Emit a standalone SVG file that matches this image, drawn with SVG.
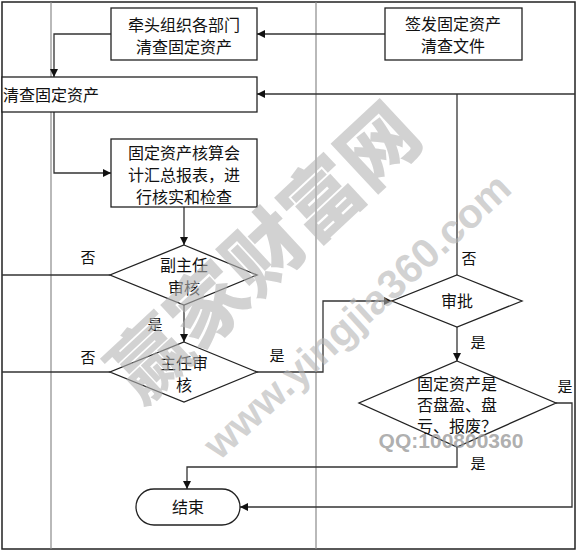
<svg xmlns="http://www.w3.org/2000/svg" width="577" height="553" viewBox="0 0 577 553">
<style>
.frame{fill:none;stroke:#222;stroke-width:1.5}
.lane{stroke:#8a8a8a;stroke-width:1.2}
.box{fill:#fff;stroke:#222;stroke-width:1.3}
.con{fill:none;stroke:#333;stroke-width:1.3}
.t{font-family:"Noto Sans CJK SC","Liberation Sans",sans-serif;font-size:16px;fill:#111;text-anchor:middle}
.lbl{font-family:"Noto Sans CJK SC","Liberation Sans",sans-serif;font-size:15px;fill:#111;text-anchor:middle}
.wm{font-family:"Liberation Sans","Noto Sans CJK SC",sans-serif;font-weight:bold;fill:#b4b4b4;fill-opacity:0.6;text-anchor:middle}
</style>
<defs>
<marker id="arr" viewBox="0 0 10 10" refX="10" refY="5" markerWidth="8" markerHeight="8" markerUnits="userSpaceOnUse" orient="auto">
<path d="M0,0 L10,5 L0,10 z" fill="#111"/>
</marker>
</defs>
<rect width="577" height="553" fill="#fff"/>
<g id="frame">
<rect class="frame" x="2" y="2" width="573" height="547"/>
<line class="lane" x1="51" y1="2" x2="51" y2="549"/>
<line class="lane" x1="316" y1="2" x2="316" y2="549"/>
</g>
<g id="connectors">
<path class="con" d="M385,34 H257" marker-end="url(#arr)"/>
<path class="con" d="M111,34 H54 V77" marker-end="url(#arr)"/>
<path class="con" d="M54,112 V173 H111" marker-end="url(#arr)"/>
<path class="con" d="M184,207 V245" marker-end="url(#arr)"/>
<path class="con" d="M110,275 H2"/>
<path class="con" d="M184,305 V342" marker-end="url(#arr)"/>
<path class="con" d="M110,372 H2"/>
<path class="con" d="M257,372 H323 V301 H392" marker-end="url(#arr)"/>
<path class="con" d="M575,94 H257" marker-end="url(#arr)"/>
<path class="con" d="M457,275 V94"/>
<path class="con" d="M457,327 V361" marker-end="url(#arr)"/>
<path class="con" d="M556,403 H572 V507 H240" marker-end="url(#arr)"/>
<path class="con" d="M457,447 V467 H187 V489" marker-end="url(#arr)"/>
</g>
<g id="labels">
<text class="lbl" x="88" y="263">否</text>
<text class="lbl" x="88" y="363">否</text>
<text class="lbl" x="155" y="330">是</text>
<text class="lbl" x="277" y="361">是</text>
<text class="lbl" x="469" y="264">否</text>
<text class="lbl" x="478" y="348">是</text>
<text class="lbl" x="565" y="392">是</text>
<text class="lbl" x="478" y="469">是</text>
</g>
<g id="n1">
<rect class="box" x="111" y="8" width="146" height="52"/>
<text class="t" x="184" y="31">牵头组织各部门</text>
<text class="t" x="184" y="53">清查固定资产</text>
</g>
<g id="n2">
<rect class="box" x="385" y="8" width="137" height="52"/>
<text class="t" x="453" y="30">签发固定资产</text>
<text class="t" x="453" y="52">清查文件</text>
</g>
<g id="n3">
<rect class="box" x="2" y="77" width="255" height="35"/>
<text class="t" x="3" y="101" style="text-anchor:start">清查固定资产</text>
</g>
<g id="n4">
<rect class="box" x="111" y="139" width="146" height="68"/>
<text class="t" x="184" y="159">固定资产核算会</text>
<text class="t" x="184" y="181">计汇总报表，进</text>
<text class="t" x="184" y="203">行核实和检查</text>
</g>
<g id="n5">
<polygon class="box" points="184,245 257,275 184,305 110,275"/>
<text class="t" x="184" y="271">副主任</text>
<text class="t" x="184" y="294">审核</text>
</g>
<g id="n6">
<polygon class="box" points="184,342 257,372 184,402 110,372"/>
<text class="t" x="184" y="369">主任审</text>
<text class="t" x="184" y="391">核</text>
</g>
<g id="n7">
<polygon class="box" points="457,275 522,301 457,327 392,301"/>
<text class="t" x="457" y="307">审批</text>
</g>
<g id="n8">
<polygon class="box" points="457,361 556,403 457,447 359,403"/>
<text class="t" x="457" y="390">固定资产是</text>
<text class="t" x="457" y="411">否盘盈、盘</text>
<text class="t" x="457" y="432">亏、报废？</text>
</g>
<g id="n9">
<rect class="box" x="136" y="489" width="104" height="36" rx="18"/>
<text class="t" x="188" y="513">结束</text>
</g>
<g id="watermark">
<text class="wm" x="266" y="280" font-size="78" transform="rotate(-43 266 254)" style="font-family:'Noto Sans CJK SC',sans-serif;font-weight:900">赢家财富网</text>
<text class="wm" x="357" y="330" font-size="41" transform="rotate(-42.5 357 316)">www.yingjia360.com</text>
<text class="wm" x="451" y="448" font-size="21" style="fill:#9a9a9a;fill-opacity:0.8">QQ:100800360</text>
</g>
</svg>
